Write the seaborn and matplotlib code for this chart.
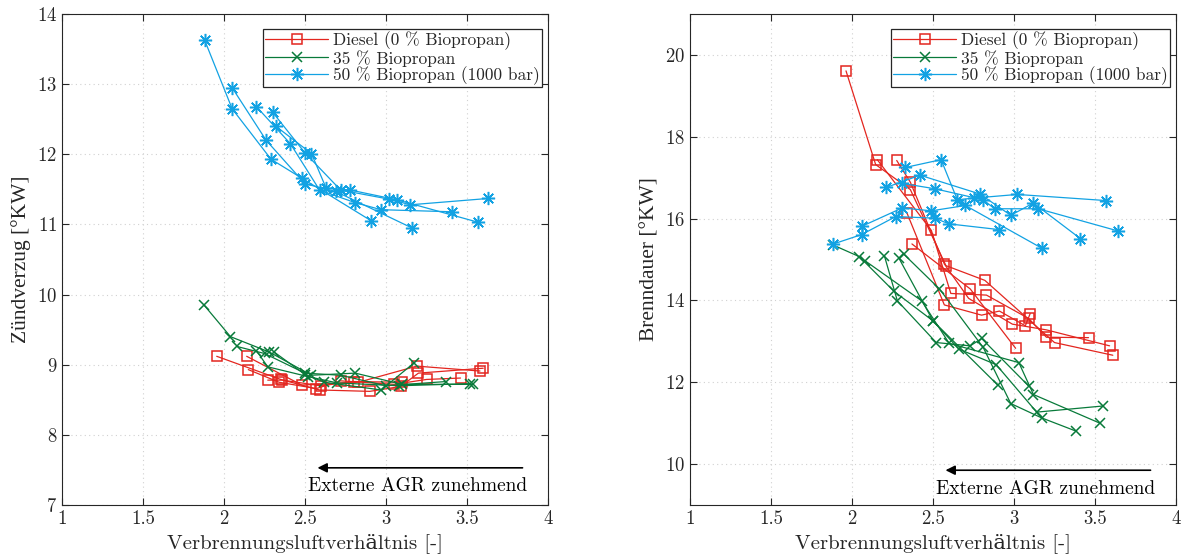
import numpy as np
import pandas as pd
import matplotlib
matplotlib.use("Agg")
import matplotlib.pyplot as plt
from matplotlib.lines import Line2D
import seaborn as sns

# Zündverzug (linkes Diagramm), je Liste eine AGR-Variation
zv_diesel_lam = [[3.58, 3.19, 2.83, 2.48, 2.14],
                 [3.60, 3.20, 3.09, 2.90, 2.59, 2.35, 1.955],
                 [3.46, 3.25, 3.05, 2.72, 2.57, 2.34, 2.15],
                 [3.10, 2.80, 2.60, 2.36, 2.27]]
zv_diesel_val = [[8.91, 8.98, 8.75, 8.71, 9.12],
                 [8.95, 8.88, 8.69, 8.62, 8.64, 8.79, 9.12],
                 [8.81, 8.79, 8.72, 8.77, 8.66, 8.75, 8.93],
                 [8.75, 8.76, 8.70, 8.78, 8.78]]

zv_bp35_lam = [[3.54, 3.10, 2.81, 2.54, 2.28, 2.04, 1.877],
               [3.37, 3.00, 2.72, 2.50, 2.25, 2.08],
               [3.17, 2.97, 2.62, 2.50, 2.31],
               [3.52, 3.08, 2.70, 2.52, 2.27, 2.20]]
zv_bp35_val = [[8.72, 8.72, 8.88, 8.85, 9.18, 9.40, 9.85],
               [8.76, 8.70, 8.85, 8.88, 9.16, 9.26],
               [9.02, 8.64, 8.75, 8.86, 9.18],
               [8.73, 8.70, 8.74, 8.83, 8.97, 9.20]]

zv_bp50_lam = [[3.63, 3.15, 3.02, 2.72, 2.50, 2.30],
               [3.41, 2.97, 2.81, 2.59, 2.41, 2.20],
               [3.57, 3.07, 2.78, 2.63, 2.54, 2.32],
               [3.16, 2.69, 2.50, 2.26, 2.05],
               [2.91, 2.48, 2.29, 2.05, 1.88]]
zv_bp50_val = [[11.37, 11.28, 11.36, 11.49, 12.02, 12.60],
               [11.18, 11.21, 11.31, 11.49, 12.15, 12.68],
               [11.03, 11.35, 11.49, 11.52, 12.01, 12.40],
               [10.95, 11.47, 11.58, 12.20, 12.95],
               [11.05, 11.66, 11.93, 12.65, 13.63]]

# Brenndauer (rechtes Diagramm)
bd_diesel_lam = [[3.61, 3.25, 2.82, 2.58, 2.36, 2.146, 1.963],
                 [3.59, 3.20, 2.99, 2.72, 2.57, 2.36, 2.276],
                 [3.46, 3.20, 3.09, 2.83, 2.61, 2.49, 2.156],
                 [3.10, 3.07, 2.91, 2.80, 2.57, 2.34],
                 [3.01, 2.73, 2.37]]
bd_diesel_val = [[12.66, 12.97, 14.49, 14.85, 16.71, 17.32, 19.61],
                 [12.89, 13.28, 13.42, 14.05, 14.89, 16.89, 17.42],
                 [13.09, 13.10, 13.56, 14.13, 14.17, 15.71, 17.44],
                 [13.68, 13.38, 13.74, 13.64, 13.89, 16.13],
                 [12.83, 14.28, 15.38]]

bd_bp35_lam = [[3.55, 3.14, 2.89, 2.66, 2.50, 2.26, 2.045, 1.88],
               [3.53, 3.12, 3.03, 2.60, 2.43, 2.08],
               [3.38, 3.17, 2.98, 2.81, 2.54, 2.32],
               [3.09, 2.80, 2.73, 2.52, 2.28, 2.20],
               [2.90, 2.50, 2.29]]
bd_bp35_val = [[11.42, 11.27, 12.43, 12.81, 13.50, 14.22, 15.07, 15.36],
               [11.00, 11.70, 12.48, 12.95, 13.99, 14.97],
               [10.81, 11.13, 11.48, 12.85, 14.28, 15.13],
               [11.91, 13.07, 12.89, 12.97, 13.99, 15.09],
               [11.93, 13.50, 15.03]]

bd_bp50_lam = [[3.64, 3.15, 2.88, 2.81, 2.51, 2.31],
               [3.41, 3.12, 2.98, 2.79, 2.42, 2.21],
               [3.57, 3.02, 2.75, 2.65, 2.55, 2.33],
               [3.17, 2.70, 2.49, 2.31, 2.06],
               [2.91, 2.60, 2.51, 2.27, 2.06, 1.885]]
bd_bp50_val = [[15.70, 16.24, 16.24, 16.46, 16.73, 16.86],
               [15.51, 16.38, 16.08, 16.60, 17.06, 16.76],
               [16.44, 16.59, 16.50, 16.46, 17.44, 17.25],
               [15.28, 16.32, 16.19, 16.26, 15.81],
               [15.73, 15.87, 16.01, 16.05, 15.61, 15.38]]

labels = ["Diesel (0 % Biopropan)", "35 % Biopropan", "50 % Biopropan (1000 bar)"]
colors = ["#e3261f", "#087a3a", "#12a2e3"]
markers = ["s", "x", (8, 2, 0)]
msizes = [7.5, 7.5, 9.5]


def to_frame(lams, vals):
    rows = []
    for i, (l, v) in enumerate(zip(lams, vals)):
        for a, b in zip(l, v):
            rows.append({"lam": a, "val": b, "sweep": i})
    return pd.DataFrame(rows)


sns.set_style("ticks")
plt.rcParams["font.family"] = ["cmr10", "DejaVu Serif"]
plt.rcParams["mathtext.fontset"] = "cm"
plt.rcParams["axes.formatter.use_mathtext"] = True
plt.rcParams["axes.unicode_minus"] = False

fig = plt.figure(figsize=(11.85, 5.56), dpi=100)
ax1 = fig.add_axes([62 / 1185, 51 / 556, 486 / 1185, 491 / 556])
ax2 = fig.add_axes([690 / 1185, 51 / 556, 486 / 1185, 491 / 556])

panels = [
    (ax1, [(zv_diesel_lam, zv_diesel_val), (zv_bp35_lam, zv_bp35_val), (zv_bp50_lam, zv_bp50_val)]),
    (ax2, [(bd_diesel_lam, bd_diesel_val), (bd_bp35_lam, bd_bp35_val), (bd_bp50_lam, bd_bp50_val)]),
]

for ax, series in panels:
    for k, (lams, vals) in enumerate(series):
        df = to_frame(lams, vals)
        sns.lineplot(data=df, x="lam", y="val", units="sweep", estimator=None,
                     sort=False, ax=ax, color=colors[k], marker=markers[k],
                     markersize=msizes[k], mfc="none", mec=colors[k], mew=1.1,
                     linewidth=0.9)

handles = [Line2D([], [], color=colors[k], marker=markers[k], markersize=msizes[k],
                  mfc="none", mec=colors[k], mew=1.1, linewidth=0.9) for k in range(3)]

for ax in (ax1, ax2):
    ax.set_xlim(1, 4)
    ax.set_xticks(np.arange(1, 4.01, 0.5))
    ax.set_xticklabels(["1", "1.5", "2", "2.5", "3", "3.5", "4"])
    ax.set_xlabel("Verbrennungsluftverhältnis [-]", fontsize=15, color="0.15")
    ax.grid(True, linestyle=(0, (1, 3)), color="0.82", linewidth=0.8)
    ax.tick_params(direction="in", top=True, right=True, labelsize=13.5,
                   colors="0.15", length=5)
    for sp in ax.spines.values():
        sp.set_color("0.15")
        sp.set_linewidth(0.8)
    leg = ax.legend(handles, labels, loc="upper right",
                    bbox_to_anchor=(1 - 6 / 486, 1 - 15 / 491), fontsize=12.5,
                    fancybox=False, edgecolor="0.15", framealpha=1,
                    borderaxespad=0, handlelength=3.6, labelspacing=0.0,
                    borderpad=0.12, handletextpad=0.3)
    leg.get_frame().set_linewidth(0.9)

# cmr10 hat kein echtes Gradzeichen -> y-Beschriftung in Liberation Serif
ax1.set_ylim(7, 14)
ax1.set_yticks(range(7, 15))
ax1.set_ylabel("Zündverzug [°KW]", fontsize=15.5, color="0.15",
               family=["Liberation Serif"])
ax2.set_ylim(9, 21)
ax2.set_yticks(range(10, 21, 2))
ax2.set_ylabel("Brenndauer [°KW]", fontsize=15.5, color="0.15",
               family=["Liberation Serif"])

# Pfeil: Externe AGR zunehmend
for ax, y_arr, y_txt in ((ax1, 7.53, 7.27), (ax2, 9.85, 9.40)):
    ax.annotate("", xy=(2.56, y_arr), xytext=(3.86, y_arr),
                arrowprops=dict(arrowstyle="-|>", color="black", lw=1.2,
                                mutation_scale=14))
    ax.text(3.87, y_txt, "Externe AGR zunehmend", ha="right", va="center",
            fontsize=14, color="black")

fig.savefig("out.png", dpi=100)
